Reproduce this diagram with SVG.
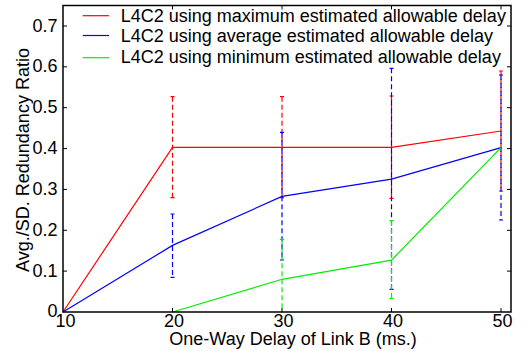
<svg xmlns="http://www.w3.org/2000/svg" width="524" height="351" viewBox="0 0 524 351">
<style>
text{font-family:"Liberation Sans",Arial,sans-serif;font-size:18px;fill:#000}
.ax{fill:none;stroke:#000;stroke-width:1.5}
.tk{stroke:#000;stroke-width:1}
.ln{fill:none;stroke-width:1.2}
.eb{fill:none;stroke-width:1.2;stroke-dasharray:5 3}
.cap{stroke-width:1.2}
.r{stroke:#ff0000}.b{stroke:#0000ff}.g{stroke:#00ee00}
</style>
<rect width="524" height="351" fill="#fff"/>
<g id="connectors">
<g id="errorbars-red" class="r">
<path class="eb" d="M172.5,96.7V197.7M282,96.7V197.7M391.5,96V198.3M501,71V191"/>
<path class="cap" d="M170.5,96.7h4M170.5,197.7h4M280,96.7h4M280,197.7h4M389.5,96h4M389.5,198.3h4M499,71h4M499,191h4"/>
</g>
<g id="errorbars-blue" class="b">
<path class="eb" d="M172.5,214V277.3M282,132.3V260M391.5,68.3V289.3M501,75V220"/>
<path class="cap" d="M170.5,214h4M170.5,277.3h4M280,132.3h4M280,260h4M389.5,68.3h4M389.5,289.3h4M499,75h4M499,220h4"/>
</g>
<g id="errorbars-green" class="g">
<path class="eb" d="M282,239.3V312M391.5,220.7V298.3"/>
<path class="cap" d="M280,239.3h4M389.5,220.7h4M389.5,298.3h4"/>
</g>
<polyline id="series-max" class="ln r" points="63,312 172.5,147.3 282,147.3 391.5,147.3 501,131"/>
<polyline id="series-avg" class="ln b" points="63,312 172.5,245.4 282,196.4 391.5,179.2 501,147.7"/>
<polyline id="series-min" class="ln g" points="172.5,312 282,279.3 391.5,260.1 501,147.7"/>
</g>
<g id="axes">
<rect class="ax" x="63" y="5.5" width="448" height="306.5"/>
<path class="tk" d="M172.5,312v-4M282,312v-4M391.5,312v-4M501,312v-4M172.5,5.5v4M282,5.5v4M391.5,5.5v4M501,5.5v4
M63,271.1h4M63,230.3h4M63,189.4h4M63,148.6h4M63,107.7h4M63,66.8h4M63,26h4
M511,271.1h-4M511,230.3h-4M511,189.4h-4M511,148.6h-4M511,107.7h-4M511,66.8h-4M511,26h-4"/>
<g text-anchor="end">
<text x="57.5" y="316.5">0</text>
<text x="57.5" y="276.5">0.1</text>
<text x="57.5" y="235.8">0.2</text>
<text x="57.5" y="194.9">0.3</text>
<text x="57.5" y="154.1">0.4</text>
<text x="57.5" y="113.2">0.5</text>
<text x="57.5" y="72.3">0.6</text>
<text x="57.5" y="31.5">0.7</text>
</g>
<g text-anchor="middle">
<text x="65.5" y="327">10</text>
<text x="174" y="327">20</text>
<text x="283.5" y="327">30</text>
<text x="393" y="327">40</text>
<text x="502.5" y="327">50</text>
<text x="293" y="345">One-Way Delay of Link B (ms.)</text>
<text transform="translate(29,160) rotate(-90)">Avg./SD. Redundancy Ratio</text>
</g>
</g>
<g id="legend">
<line class="ln r" x1="82.7" y1="15.7" x2="109" y2="15.7"/>
<line class="ln b" x1="82.7" y1="35.5" x2="109" y2="35.5"/>
<line class="ln g" x1="82.7" y1="57.7" x2="109" y2="57.7"/>
<text x="120.7" y="22">L4C2 using maximum estimated allowable delay</text>
<text x="120.7" y="42">L4C2 using average estimated allowable delay</text>
<text x="120.7" y="63">L4C2 using minimum estimated allowable delay</text>
</g>
</svg>
